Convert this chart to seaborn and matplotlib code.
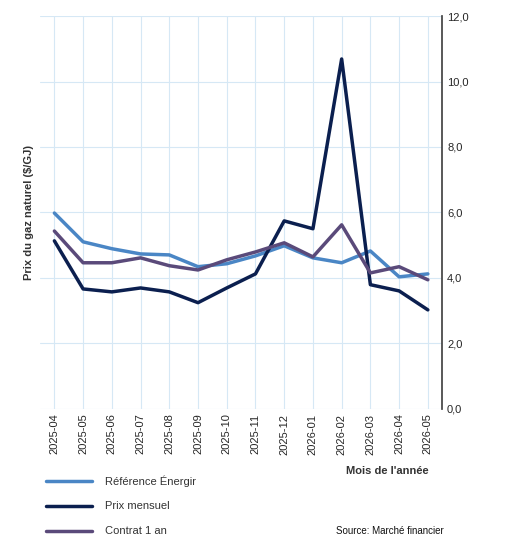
import matplotlib
matplotlib.use("Agg")
import matplotlib.pyplot as plt
import seaborn as sns
import pandas as pd
from matplotlib.ticker import FuncFormatter

months = ["2025-04","2025-05","2025-06","2025-07","2025-08","2025-09","2025-10","2025-11",
          "2025-12","2026-01","2026-02","2026-03","2026-04","2026-05"]
ref_energir = [5.98,5.10,4.89,4.73,4.70,4.34,4.43,4.67,4.98,4.61,4.46,4.82,4.03,4.12]
prix_mensuel = [5.13,3.66,3.57,3.69,3.57,3.24,3.69,4.12,5.74,5.50,10.69,3.79,3.60,3.02]
contrat_1an = [5.43,4.46,4.46,4.61,4.37,4.24,4.55,4.79,5.07,4.64,5.62,4.15,4.34,3.94]

series = {"Référence Énergir": ref_energir, "Prix mensuel": prix_mensuel, "Contrat 1 an": contrat_1an}
colors = {"Référence Énergir": "#4a86c5", "Prix mensuel": "#0b1f4f", "Contrat 1 an": "#5a4a7a"}
df = pd.concat([pd.DataFrame({"mois": months, "prix": v, "serie": k}) for k, v in series.items()])
df["x"] = df.groupby("serie").cumcount()

sns.set_theme(style="white")
plt.rcParams['font.family'] = ['Liberation Sans', 'DejaVu Sans']
fig = plt.figure(figsize=(5.13, 5.56), dpi=100)
ax = fig.add_axes([0.078, 0.265, 0.784, 0.706])
sns.lineplot(data=df, x="x", y="prix", hue="serie", palette=colors, linewidth=2.5, ax=ax, legend=False)
ax.set_xlim(-0.5, 13.5)
ax.set_ylim(0, 12)
ax.set_xticks(range(len(months)))
ax.set_xticklabels(months, rotation=90, fontsize=8)
ax.set_yticks(range(0, 13, 2))
ax.yaxis.tick_right()
ax.yaxis.set_major_formatter(FuncFormatter(lambda v, p: f"{v:.1f}".replace(".", ",")))
ax.tick_params(axis="y", labelsize=8, length=0)
ax.tick_params(axis="x", length=0)
ax.grid(True, color="#d6e8f5", linewidth=0.8)
for s in ax.spines.values():
    s.set_visible(False)
ax.spines["right"].set_visible(True)
ax.spines["right"].set_color("#444444")
ax.set_xlabel("")
ax.set_ylabel("Prix du gaz naturel ($/GJ)", fontsize=8, fontweight="bold", color="#333333")
fig.text(0.835, 0.148, "Mois de l'année", fontsize=8, fontweight="bold", ha="right", color="#333333")
for i, (k, yy) in enumerate(zip(series, [0.135, 0.09, 0.045])):
    fig.lines.append(plt.Line2D([0.09, 0.18], [yy, yy], color=colors[k], linewidth=2.5, transform=fig.transFigure))
    fig.text(0.205, yy, k, fontsize=8, va="center", color="#333333")
fig.text(0.655, 0.045, "Source: Marché financier", fontsize=7, va="center", color="#111111")
fig.savefig("out.png", dpi=100)
